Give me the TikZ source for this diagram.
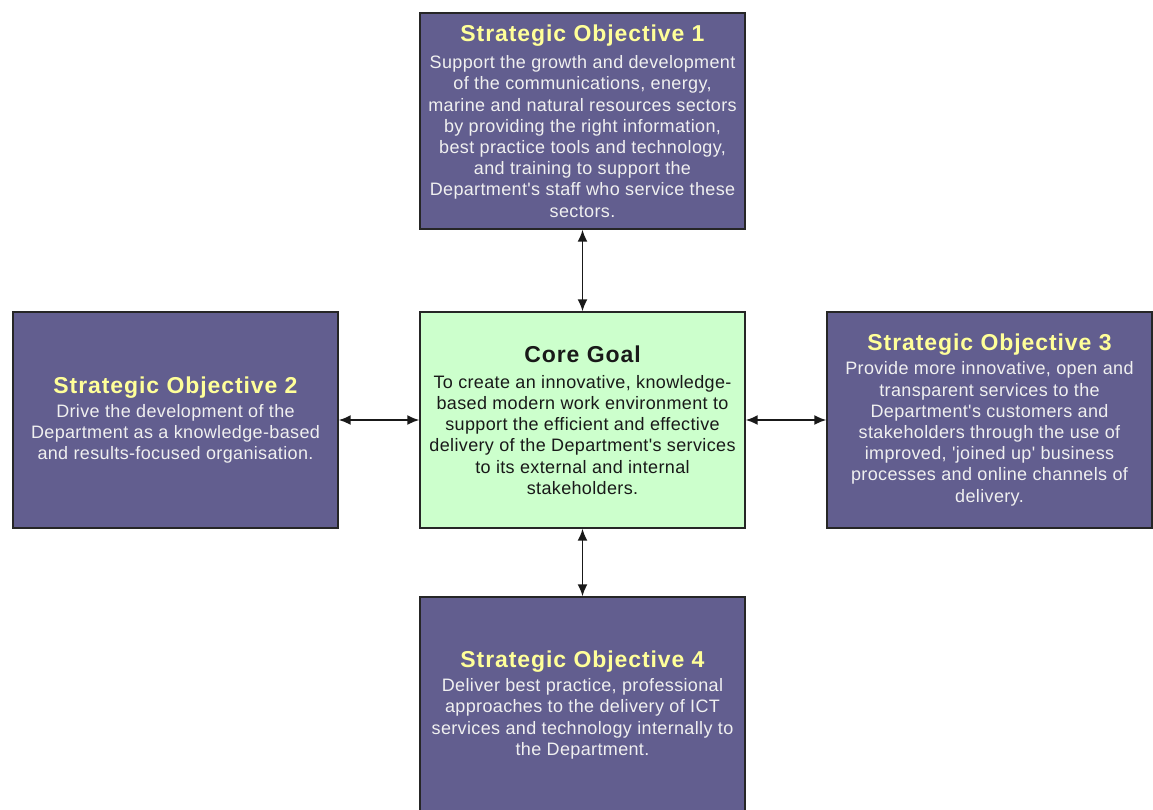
\documentclass[tikz,border=0pt]{standalone}
\usepackage{fontspec}
% a family without the TeX quote mapping, so apostrophes stay straight
\newfontfamily\boxfamily{Liberation Sans}
\usetikzlibrary{arrows.meta}

\definecolor{objfill}{HTML}{625E8F}
\definecolor{corefill}{HTML}{CCFFCC}
\definecolor{titleyellow}{HTML}{FFFF99}
\definecolor{bodywhite}{HTML}{F0F0F0}

% fonts for headings and body text
\newcommand\headfont{\fontsize{23}{25}\selectfont\bfseries\addfontfeatures{LetterSpace=4}}
\newcommand\bodyfont{\boxfamily\fontsize{18}{21.2}\selectfont\addfontfeatures{LetterSpace=2}}
% heading inside an objective box
\newcommand\objhead[1]{{\headfont\color{titleyellow}#1}}

\begin{document}
\begin{tikzpicture}[x=1pt, y=-1pt,
  box/.style={draw=black!85, line width=1.4pt, minimum width=325pt,
    minimum height=216pt, inner sep=0pt, align=center},
  objbox/.style={box, fill=objfill, text=bodywhite, font=\bodyfont},
  corebox/.style={box, fill=corefill, text=black!90, font=\bodyfont},
  link/.style={line width=1.8pt, draw=black!90,
    {Latex[length=12pt,width=10pt]}-{Latex[length=12pt,width=10pt]}}
]
\useasboundingbox (0,0) rectangle (1153,809);
\fill[white] (0,0) rectangle (1153,809);

\node[objbox] (so1) at (582.5,121) {%
  \objhead{Strategic Objective 1}\\[6pt]
  Support the growth and development\\
  of the communications, energy,\\
  marine and natural resources sectors\\
  by providing the right information,\\
  best practice tools and technology,\\
  and training to support the\\
  Department's staff who service these\\
  sectors.};

\node[corebox] (core) at (582.5,420) {%
  {\headfont Core Goal}\\[5pt]
  To create an innovative, knowledge-\\
  based modern work environment to\\
  support the efficient and effective\\
  delivery of the Department's services\\
  to its external and internal\\
  stakeholders.};

\node[objbox] (so2) at (175.5,420) {%
  \objhead{Strategic Objective 2}\\[3pt]
  Drive the development of the\\
  Department as a knowledge-based\\
  and results-focused organisation.};

\node[objbox] (so3) at (989.5,420) {%
  \objhead{Strategic Objective 3}\\[3pt]
  Provide more innovative, open and\\
  transparent services to the\\
  Department's customers and\\
  stakeholders through the use of\\
  improved, 'joined up' business\\
  processes and online channels of\\
  delivery.};

\node[objbox] (so4) at (582.5,705) {%
  \objhead{Strategic Objective 4}\\[3pt]
  Deliver best practice, professional\\
  approaches to the delivery of ICT\\
  services and technology internally to\\
  the Department.};

\draw[link] (so1.south) -- (core.north);
\draw[link] (core.south) -- (so4.north);
\draw[link] (so2.east) -- (core.west);
\draw[link] (core.east) -- (so3.west);
\end{tikzpicture}
\end{document}
